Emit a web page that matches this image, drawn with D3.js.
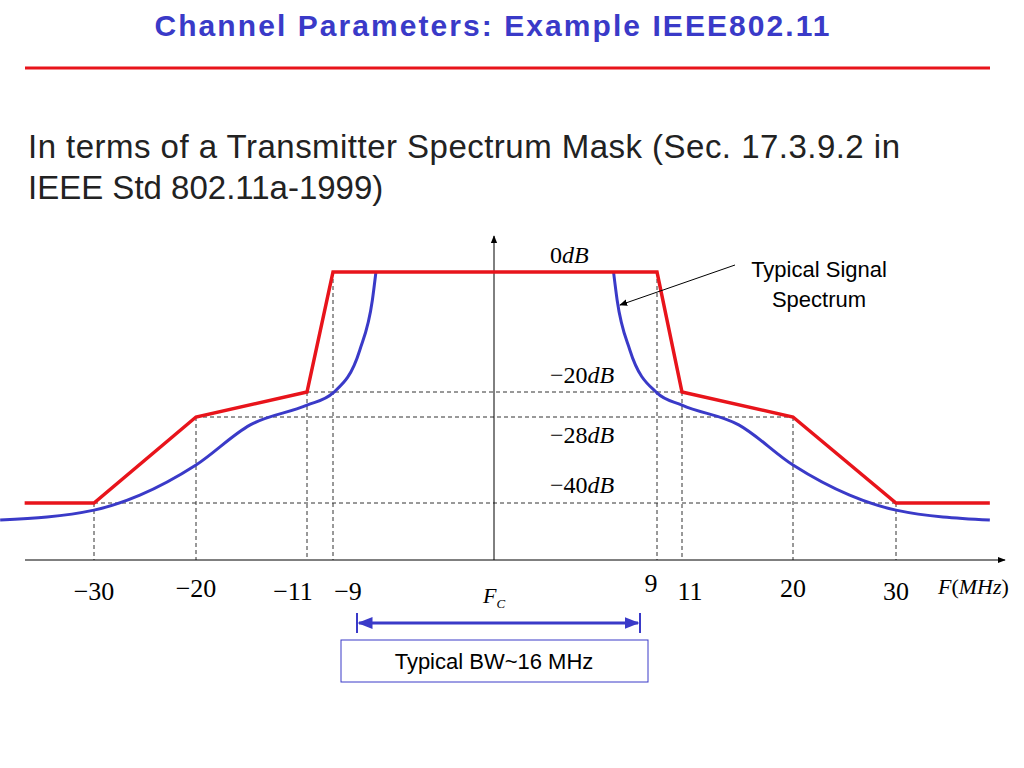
<!DOCTYPE html>
<html><head><meta charset="utf-8">
<script src="https://cdn.jsdelivr.net/npm/d3@7"></script>
<style>body{margin:0;background:#fff}</style>
</head><body>
<svg id="c" width="1024" height="768"></svg>
<script>
// ticks (MHz) and their pixel positions (axis is not to scale on the slide)
const xTicks = [-30, -20, -11, -9, 9, 11, 20, 30];
const xTickLabels = ["\u221230", "\u221220", "\u221211", "\u22129", "9", "11", "20", "30"];
const levels = [0, -20, -28, -40];
const levelLabels = ["0dB", "\u221220dB", "\u221228dB", "\u221240dB"];
// transmit mask (MHz, dB)
const maskF = [-36.8, -30, -20, -11, -9, 9, 11, 20, 30, 39.2];
const maskDb = [-40, -40, -28, -20, 0, 0, -20, -28, -40, -40];
// typical signal spectrum, left half (mirrored)
const specF = [-39.2, -30, -25.5, -20, -15.6, -11, -9, -7.5, -6.8, -6.6];
const specDb = [-42.4, -41, -38.9, -34.7, -29.1, -24.2, -20.3, -13, -4.7, 0];

const svg = d3.select("#c");
const x = d3.scaleLinear()
    .domain([-40, -30, -20, -11, -9, 0, 9, 11, 20, 30, 40])
    .range([-8, 94, 196, 307, 333, 494, 657, 682, 793, 896, 998]);
const y = d3.scaleLinear()
    .domain([-48, -40, -28, -20, 0])
    .range([560, 503, 417, 392, 272]);

svg.append("text").attr("x", 492).attr("y", 36).attr("text-anchor", "middle")
    .attr("font-family", "Liberation Sans, Arial").attr("font-weight", "bold")
    .attr("font-size", 30).attr("textLength", 675).attr("fill", "#3a3ac8").text("Channel Parameters: Example IEEE802.11");
svg.append("line").attr("x1", 25).attr("x2", 990).attr("y1", 68).attr("y2", 68)
    .attr("stroke", "#e8141b").attr("stroke-width", 3);
const para = svg.append("text").attr("font-family", "Liberation Sans, Arial").attr("font-size", 33).attr("fill", "#222");
para.append("tspan").attr("x", 28).attr("y", 158).attr("textLength", 872).text("In terms of a Transmitter Spectrum Mask (Sec. 17.3.9.2 in");
para.append("tspan").attr("x", 28).attr("y", 199).text("IEEE Std 802.11a-1999)");

const defs = svg.append("defs");
defs.append("marker").attr("id", "ah").attr("viewBox", "0 0 10 10").attr("refX", 9).attr("refY", 5)
    .attr("markerWidth", 8).attr("markerHeight", 8).attr("orient", "auto-start-reverse")
    .append("path").attr("d", "M0,1L10,5L0,9z").attr("fill", "#000");
defs.append("marker").attr("id", "bh").attr("viewBox", "0 0 10 10").attr("refX", 9).attr("refY", 5)
    .attr("markerWidth", 5).attr("markerHeight", 5).attr("orient", "auto-start-reverse")
    .append("path").attr("d", "M0,1L10,5L0,9z").attr("fill", "#3a3ac8");

// dashed guides
const dash = svg.append("g").attr("stroke", "#333").attr("stroke-dasharray", "4,3").attr("stroke-width", 1);
xTicks.forEach(f => {
    const i = maskF.indexOf(f);
    dash.append("line").attr("x1", x(f)).attr("x2", x(f)).attr("y1", y(maskDb[i])).attr("y2", y(-48));
});
[[-20, 11], [-28, 20], [-40, 30]].forEach(([db, f]) => {
    dash.append("line").attr("x1", x(-f)).attr("x2", x(f)).attr("y1", y(db)).attr("y2", y(db));
});

// axes
svg.append("line").attr("x1", 25).attr("x2", 1005).attr("y1", y(-48)).attr("y2", y(-48))
    .attr("stroke", "#000").attr("marker-end", "url(#ah)");
svg.append("line").attr("x1", x(0)).attr("x2", x(0)).attr("y1", y(-48)).attr("y2", 236)
    .attr("stroke", "#000").attr("marker-end", "url(#ah)");

// curves
const spec = specF.map((f, i) => [f, specDb[i]]);
const line = d3.line().x(d => x(d[0])).y(d => y(d[1])).curve(d3.curveMonotoneX);
const rightSpec = spec.map(d => [-d[0], d[1]]).reverse();
svg.append("path").attr("d", line(spec)).attr("fill", "none").attr("stroke", "#3a3ac8").attr("stroke-width", 3);
svg.append("path").attr("d", line(rightSpec)).attr("fill", "none").attr("stroke", "#3a3ac8").attr("stroke-width", 3);
svg.append("path").attr("d", d3.line().x(d => x(d)).y((d, i) => y(maskDb[i]))(maskF))
    .attr("fill", "none").attr("stroke", "#e8141b").attr("stroke-width", 3.5);

// labels
const tf = "Liberation Serif, Times New Roman";
const tickY = [600, 597, 600, 600, 592, 600, 597, 600];
xTicks.forEach((f, i) => {
    const dx = f === -9 ? 15 : f === 9 ? -6 : f === 11 ? 8 : f === -11 ? -14 : 0;
    svg.append("text").attr("x", x(f) + dx).attr("y", tickY[i]).attr("text-anchor", "middle")
        .attr("font-family", tf).attr("font-size", 26).text(xTickLabels[i]);
});
const levelY = [263, 383, 443, 493];
levels.forEach((l, i) => {
    const t = svg.append("text").attr("x", 550).attr("y", levelY[i]).attr("font-family", tf).attr("font-size", 24);
    const s = levelLabels[i];
    t.append("tspan").text(s.slice(0, -2));
    t.append("tspan").attr("font-style", "italic").text("dB");
});
const fc = svg.append("text").attr("x", 483).attr("y", 603).attr("font-family", tf).attr("font-style", "italic").attr("font-size", 22);
fc.append("tspan").text("F");
fc.append("tspan").attr("font-size", 13).attr("dy", 5).text("C");
svg.append("text").attr("x", 938).attr("y", 594).attr("font-family", tf).attr("font-size", 22)
    .html('<tspan font-style="italic">F</tspan>(<tspan font-style="italic">MHz</tspan>)');

svg.append("text").attr("x", 819).attr("y", 277).attr("text-anchor", "middle").attr("font-family", "Liberation Sans, Arial").attr("font-size", 22).text("Typical Signal");
svg.append("text").attr("x", 819).attr("y", 307).attr("text-anchor", "middle").attr("font-family", "Liberation Sans, Arial").attr("font-size", 22).text("Spectrum");
svg.append("line").attr("x1", 735).attr("y1", 265).attr("x2", 620).attr("y2", 305).attr("stroke", "#000").attr("marker-end", "url(#ah)");

svg.append("line").attr("x1", 359).attr("x2", 638).attr("y1", 623).attr("y2", 623).attr("stroke", "#3a3ac8").attr("stroke-width", 3)
    .attr("marker-start", "url(#bh)").attr("marker-end", "url(#bh)");
svg.append("line").attr("x1", 357).attr("x2", 357).attr("y1", 613).attr("y2", 633).attr("stroke", "#3a3ac8").attr("stroke-width", 2);
svg.append("line").attr("x1", 640).attr("x2", 640).attr("y1", 613).attr("y2", 633).attr("stroke", "#3a3ac8").attr("stroke-width", 2);
svg.append("rect").attr("x", 341).attr("y", 640).attr("width", 307).attr("height", 42).attr("fill", "#fff").attr("stroke", "#3a3ac8");
svg.append("text").attr("x", 494).attr("y", 669).attr("text-anchor", "middle").attr("font-family", "Liberation Sans, Arial").attr("font-size", 22).text("Typical BW~16 MHz");
</script>
</body></html>
